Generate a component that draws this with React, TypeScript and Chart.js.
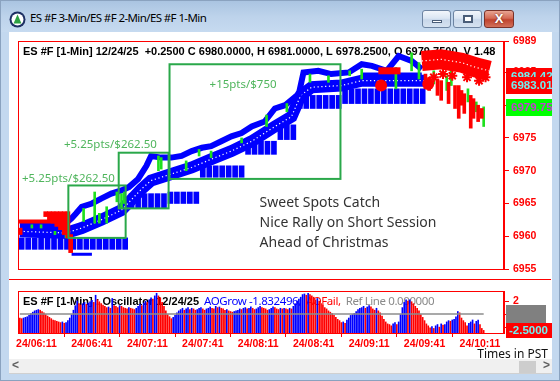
import React, { useEffect, useRef } from 'react';
import { Chart, registerables } from 'chart.js';

Chart.register(...registerables);

const ARIAL = "'Liberation Sans', Arial, sans-serif";
const SEGOE = "'Noto Sans', 'Open Sans', sans-serif";

const BLUE = '#0000ff';
const RED = '#ff0000';
const GREEN = '#1ee01e';
const BOX_GREEN = '#2aa84a';
const LABEL_GREEN = '#4fb55c';

// ---------- time axis: minutes after 06:00 PST, 12/24/25 ----------
const T_MIN = 1;
const T_MAX = 264;
const TIME_TICKS = [11, 41, 71, 101, 131, 161, 191, 221, 251];

// ---------- price axis ----------
const P_MIN = 6955;
const P_MAX = 6989.8;
const PRICE_TICKS = [6955, 6960, 6965, 6970, 6975, 6980, 6985, 6989.8];

const HEADER_MAIN =
  'ES #F [1-Min] 12/24/25  +0.2500 C 6980.0000, H 6981.0000, L 6978.2500, O 6979.7500, V 1.48';

// [time, price]
const upperTrail: [number, number][] = [
  [2, 6961.75], [24.5, 6961.75], [28, 6962.25], [30, 6962.75], [32.5, 6963.5], [35.5, 6964.5],
  [41, 6965], [46, 6965.75], [51.5, 6966.5], [57, 6967], [61, 6967.5], [66, 6968.75],
  [70.5, 6970.75], [73, 6972.25], [78.5, 6972], [84, 6972], [89.5, 6972.25], [95, 6973],
  [100.5, 6973.5], [105.5, 6973.75], [111, 6974.5], [116.5, 6975.25], [122, 6975.75],
  [127.5, 6976.75], [134.5, 6977.5], [140, 6979.5], [145.5, 6980], [153, 6981.75],
  [155.5, 6985], [163.5, 6985.25], [170.5, 6984.75], [180, 6985], [187, 6986.25],
  [192.5, 6986], [200.5, 6985.25], [207, 6987.5], [214, 6986.75], [219.5, 6985.5],
];

const sweetBand: [number, number][] = [
  [2, 6960.75], [27, 6960.5], [35.5, 6961.25], [46, 6962.5], [57, 6964], [68, 6967.25],
  [73, 6968.5], [84, 6969.5], [95, 6970.5], [105.5, 6971.75], [116.5, 6973],
  [127.5, 6974.5], [140, 6976.75], [149, 6978.25], [154, 6981.5], [160, 6982.75],
  [176, 6983], [187, 6983.75], [221, 6983.75],
];

// [time, low, high]
const supportBlocks: [number, number, number][] = [
  [3, 6958, 6959.75], [6.5, 6958, 6959.75], [10, 6958, 6959.75], [13.5, 6958, 6959.75],
  [17, 6958, 6959.75], [20.5, 6958, 6959.75], [24, 6958, 6959.75], [27.5, 6958, 6959.75],
  [31, 6958, 6959.75], [34.5, 6958, 6959.75], [38, 6958, 6959.75], [41.5, 6958, 6959.75],
  [45, 6958, 6959.75], [48.5, 6958, 6959.75], [52, 6958, 6959.75], [55.5, 6958, 6959.75],
  [59, 6958, 6959.75],
  [62.5, 6964.25, 6966.5], [66, 6964.25, 6966.5], [69.5, 6964.25, 6966.5], [73, 6964.25, 6966.5],
  [76.5, 6964.25, 6966.5], [80, 6964.25, 6966.5],
  [83.5, 6965, 6966.75], [87, 6965, 6966.75], [90.5, 6965, 6966.75], [94, 6965, 6966.75],
  [97.5, 6965, 6966.75],
  [101, 6969, 6970.75], [104.5, 6969, 6970.75], [108, 6969, 6970.75], [111.5, 6969, 6970.75],
  [115, 6969, 6970.75], [118.5, 6969, 6970.75], [122, 6969, 6970.75],
  [125.5, 6972.5, 6974.5], [129, 6972.5, 6974.5], [132.5, 6972.5, 6974.5], [136, 6972.5, 6974.5],
  [139.5, 6972.5, 6974.5],
  [143, 6974.75, 6977], [146.5, 6974.75, 6977], [150, 6974.75, 6977],
  [153.5, 6979.5, 6981.5], [157, 6979.5, 6981.5], [160.5, 6979.5, 6981.5], [164, 6979.5, 6981.5],
  [167.5, 6979.5, 6981.5], [171, 6979.5, 6981.5], [174.5, 6979.5, 6981.5],
  [178, 6980.25, 6982.5], [181.5, 6980.25, 6982.5], [185, 6980.25, 6982.5], [188.5, 6980.25, 6982.5],
  [192, 6980.25, 6982.5], [195.5, 6980.25, 6982.5], [199, 6980.25, 6982.5], [202.5, 6980.25, 6982.5],
  [206, 6980.25, 6982.5], [209.5, 6980.25, 6982.5], [213, 6980.25, 6982.5], [216.5, 6980.25, 6982.5],
  [220, 6980.25, 6982.5],
];

const blueLowSeg: [number, number][] = [[30, 6957.25], [41, 6957.25]];
const blueRail: [number, number][] = [[187, 6984.75], [219.5, 6984.75]];

const greenBars: [number, number, number][] = [
  [8.5, 6961.25, 6961.75], [13.5, 6961.25, 6961.75], [21, 6960.25, 6960.75], [27, 6959.75, 6960.25],
  [36.5, 6962.25, 6964.25], [42.5, 6962, 6966.75], [45, 6962, 6963.5], [49, 6962, 6964.5],
  [54.5, 6965.25, 6966.75], [57, 6964.25, 6966.5], [58.5, 6965, 6966.75], [77, 6970, 6972.25],
  [78.5, 6970.25, 6972], [92, 6970, 6971.5], [99, 6972.25, 6973.25], [105.5, 6972, 6973],
  [122, 6974.25, 6975], [135.5, 6976.75, 6978.5], [146.5, 6979, 6980.25], [159, 6983.5, 6984.75],
  [169, 6983.5, 6984.5], [180.5, 6984.5, 6985.25], [187, 6984, 6985.5], [205.5, 6982.5, 6985.75],
  [214, 6985.25, 6988], [218, 6984, 6986.5], [226, 6983.25, 6985.25], [233, 6982.25, 6984.5],
  [235.5, 6983, 6985.25], [244.5, 6980.5, 6982.5], [249, 6979, 6980.5], [253, 6976.75, 6979.75],
];

const redBars: [number, number, number][] = [
  [221.5, 6982.5, 6984.75], [223.5, 6982.25, 6984.25], [228, 6981.5, 6984], [230, 6980.75, 6983.75],
  [234, 6980.25, 6983.5], [237.5, 6979.5, 6983], [239.5, 6978, 6983], [241, 6980, 6982.25],
  [242.5, 6978.75, 6981.75], [246, 6976.5, 6981.5], [247.5, 6978, 6981], [250, 6977.5, 6980],
  [252, 6978, 6979.5],
];

const leftRedLine: [number, number][] = [[1, 6962.25], [27, 6962.25]];
const leftRedWedge: [number, number, number][] = [
  [16, 6963, 6963.75], [18, 6962.5, 6963.75], [20, 6962, 6963.75], [22, 6961.5, 6963.75],
  [24, 6961, 6963.75], [26, 6960.25, 6963.75], [28, 6959.75, 6963.75], [29.5, 6957.5, 6960.25],
];
const leftRedSquare: [number, number][] = [[1.5, 6960.75]];
const redBlob: [number, number][] = [[196, 6985.25], [208, 6985.25]];
const redCloud: [number, number][] = [[219.5, 6986.75], [230, 6987], [241, 6986.5], [249, 6985.75], [256, 6985.25]];
const redCircles: [number, number][] = [[197.5, 6983], [223, 6983.25]];
const redStars: [number, number][] = [
  [226, 6984.25], [231, 6984.75], [236, 6984.5], [244, 6984.25], [250.5, 6983.75], [254, 6984.25],
];

// sweet spot boxes: [t0, t1, pLow, pHigh]
const sweetBoxes: [number, number, number, number][] = [
  [28.25, 59.25, 6959.75, 6967.75],
  [55.5, 82.5, 6964.25, 6972.75],
  [83, 175.5, 6968.75, 6986.25],
];
const boxLabels: [number, number, string][] = [
  [28.3, 6968.75, '+5.25pts/$262.50'],
  [51, 6974, '+5.25pts/$262.50'],
  [122.8, 6983.1, '+15pts/$750'],
];
const NOTE_TIME = 131.75;
const noteLines = ['Sweet Spots Catch', 'Nice Rally on Short Session', 'Ahead of Christmas'];
const notePrices = [6965, 6962, 6959];

const priceMarkers = [6984.425, 6983.015, 6979.75];

// ---------- oscillator ----------
const OSC_START = 2;
const OSC_MIN = -2.9;
const OSC_MAX = 3.55;
const REF_LINE = 0;
const OSC_TICKS = [-2, 0, 2];
const oscValues = [
  -0.6, -0.7, -0.6, -0.5, -0.4, -0.2, 0.1, 0.3, 0.5, 0.6, 0.7, 0.6, 0.4, 0.2, 0.0, -0.3, -0.5, -0.7,
  -0.9, -1.0, -1.1, -1.2, -1.3, -1.2, -1.4, -1.3, -1.0, -0.6, -0.1, 0.6, 1.3, 2.0, 1.6, 1.4, 1.6, 1.8,
  1.5, 1.7, 1.9, 2.1, 1.8, 2.9, 2.2, 1.9, 1.6, 1.4, 1.2, 1.0, 1.1, 0.9, 2.4, 1.3, 1.2, 1.0, 1.3, 1.2,
  1.0, 0.9, 0.8, 1.0, 0.9, 0.8, 0.7, 0.9, 1.2, 1.5, 1.3, 1.7, 2.0, 1.8, 2.2, 2.5, 2.3, 2.8, 3.2, 2.8,
  2.5, 1.8, 1.2, 0.5, 0.0, -0.4, -0.7, -0.5, -0.2, 0.2, 0.5, 0.7, 0.9, 0.6, 0.8, 1.0,
  0.7, 0.9, 0.8, 0.6, 0.7, 0.9, 1.0, 0.8, 0.6, 0.8, 0.9, 1.1, 0.9, 0.8,
  1.2, 1.0, 1.1, 0.9, 0.8, 0.6, 0.7, 0.5, 0.4, 0.3, 0.4,
  0.5, 0.6, 0.8, 0.7, 0.9, 1.0, 0.8, 0.9,
  1.1, 0.9, 0.7, 0.8, 1.0, 1.2, 1.0, 0.9, 0.8, 0.6, 0.7, 0.9, 1.1, 1.0, 0.8, 0.7,
  0.9, 0.8, 0.9, 0.8, 0.7, 0.9, 0.8,
  1.2, 1.6, 2.0, 2.3, 2.6, 3.0,
  3.1, 2.9, 3.2,
  3.0, 2.8, 2.6, 2.2, 2.4, 2.0,
  1.6, 1.4, 1.0, 0.8, 0.5, 0.3, 0.1,
  -0.2, -0.5, -0.8, -1.0, -1.3, -1.2, -1.4,
  -0.9, -0.6, -0.2, 0.0, 0.1,
  0.4, 0.7, 0.9, 1.0, 1.2, 0.9, 1.1, 1.3, 1.1, 0.8, 0.6, 0.9, 0.5,
  0.2, -0.3, -0.8, -1.2, -1.5, -1.6, -1.8, -1.5, -1.3, -1.6, -1.2,
  0.0, 1.0, 1.8, 2.2, 2.0,
  2.2, 1.9, 1.6, 1.2, 0.9, 0.5,
  0.0, -0.5, -1.0, -1.5, -1.8,
  -2.1, -1.9, -2.2, -1.8, -1.6, -2.0,
  -1.5, -1.7, -1.6,
  -1.2, -1.0, -1.1, -0.9, -0.8,
  -0.4, 0.4, 0.2,
  -0.6, -1.0, -1.3, -1.8, -1.4,
  -1.2, -0.9, -1.5, -1.1, -0.9,
  -1.6, -2.2, -2.5,
];
const oscHeader: [string, string][] = [
  ['ES #F [1-Min] : Oscillator 12/24/25', 'black'],
  ['AOGrow -1.832496,', 'blue'],
  ['AOFail,', 'red'],
  ['Ref Line 0.000000', 'gray'],
];

const xy = (a: [number, number][]) => a.map(([x, y]) => ({ x, y }));
const rng = (a: [number, number, number][]) => a.map(([x, lo, hi]) => ({ x, y: [lo, hi] }));
const fmtTime = (t: number) => {
  const h = 6 + Math.floor(t / 60);
  const m = Math.round(t % 60);
  return `24/${String(h).padStart(2, '0')}:${String(m).padStart(2, '0')}`;
};

const lineDs = (data: any, color: string, width: number, order: number, extra: any = {}) => ({
  type: 'line', data, borderColor: color, borderWidth: width, pointRadius: 0, tension: 0,
  fill: false, order, clip: 0, ...extra,
});
const barDs = (data: any, color: string, thick: number, order: number) => ({
  type: 'bar', data, backgroundColor: color, barThickness: thick, grouped: false, order, clip: 0,
});

function mainConfig(): any {
  const mainDecor = {
    id: 'mainDecor',
    beforeDatasetsDraw(chart: any) {
      const { ctx, chartArea: a } = chart;
      ctx.save();
      ctx.beginPath();
      ctx.rect(a.left, a.top, a.right - a.left, a.bottom - a.top);
      ctx.clip();
      ctx.font = `bold 11px ${ARIAL}`;
      ctx.fillStyle = '#000';
      ctx.textBaseline = 'middle';
      ctx.fillText(HEADER_MAIN, a.left + 5, a.top + 11);
      ctx.restore();
    },
    afterDatasetsDraw(chart: any) {
      const { ctx, chartArea: a } = chart;
      const xs = chart.scales.x, ys = chart.scales.y;
      ctx.save();
      ctx.strokeStyle = BOX_GREEN;
      ctx.lineWidth = 2;
      sweetBoxes.forEach(([t0, t1, p0, p1]) => {
        const x0 = xs.getPixelForValue(t0), x1 = xs.getPixelForValue(t1);
        const y0 = ys.getPixelForValue(p1), y1 = ys.getPixelForValue(p0);
        ctx.strokeRect(x0, y0, x1 - x0, y1 - y0);
      });
      ctx.font = `11.5px ${SEGOE}`;
      ctx.fillStyle = LABEL_GREEN;
      ctx.textAlign = 'center';
      ctx.textBaseline = 'middle';
      boxLabels.forEach(([t, p, s]) => ctx.fillText(s, xs.getPixelForValue(t), ys.getPixelForValue(p)));
      ctx.font = `14px ${SEGOE}`;
      ctx.fillStyle = '#333';
      ctx.textAlign = 'left';
      noteLines.forEach((s, i) => ctx.fillText(s, xs.getPixelForValue(NOTE_TIME), ys.getPixelForValue(notePrices[i])));
      ctx.strokeStyle = RED;
      ctx.lineWidth = 1;
      ctx.strokeRect(a.left + 0.5, a.top + 0.5, a.right - a.left - 1, a.bottom - a.top);
      ctx.restore();
    },
    afterDraw(chart: any) {
      const { ctx, chartArea: a, width } = chart;
      const ys = chart.scales.y;
      ctx.save();
      ctx.font = `bold 11.5px ${ARIAL}`;
      ctx.textBaseline = 'middle';
      priceMarkers.forEach((v, i) => {
        const y = ys.getPixelForValue(v);
        const last = i === priceMarkers.length - 1;
        ctx.fillStyle = last ? '#00ff00' : RED;
        ctx.fillRect(a.right + 2, Math.round(y) - 8, width - a.right - 2, 17);
        ctx.fillStyle = last ? '#c040d0' : '#6ff0f0';
        ctx.fillText(v.toFixed(4), a.right + 7, y + 0.5);
      });
      ctx.restore();
    },
  };

  return {
    type: 'bar',
    data: {
      datasets: [
        barDs(rng(supportBlocks), BLUE, 5, 10),
        lineDs(xy(sweetBand), BLUE, 12, 9),
        lineDs(xy(sweetBand), '#ffffff', 1.2, 8, { borderDash: [1.2, 2.6] }),
        lineDs(xy(upperTrail), BLUE, 6, 7),
        lineDs(xy(blueLowSeg), BLUE, 3, 6),
        lineDs(xy(blueRail), BLUE, 3, 6),
        barDs(rng(greenBars), GREEN, 2, 5),
        lineDs(xy(leftRedLine), RED, 4, 4),
        barDs(rng(leftRedWedge), RED, 4, 4),
        lineDs(xy(leftRedSquare), RED, 0, 4, { showLine: false, pointRadius: 5, pointStyle: 'rect', pointBackgroundColor: RED, pointBorderWidth: 0 }),
        barDs(rng(redBars), RED, 3, 3),
        lineDs(xy(redBlob), RED, 7, 2),
        lineDs(xy(redCloud), RED, 20, 2),
        lineDs(xy(redCloud), '#ffffff', 1.2, 1.5, { borderDash: [1.2, 2.6] }),
        lineDs(xy(redCircles), RED, 0, 1, { showLine: false, pointRadius: 6, pointBackgroundColor: RED, pointBorderWidth: 0 }),
        lineDs(xy(redStars), RED, 0, 0, { showLine: false, pointRadius: 5, pointStyle: 'star', pointBorderColor: RED, pointBorderWidth: 2 }),
      ],
    },
    options: {
      animation: false,
      responsive: false,
      devicePixelRatio: 1,
      layout: { padding: { left: 9, top: 8, right: 0, bottom: 12 } },
      plugins: { legend: { display: false }, tooltip: { enabled: false } },
      scales: {
        x: { type: 'linear', min: T_MIN, max: T_MAX, display: false, offset: false },
        y: {
          type: 'linear', position: 'right', min: P_MIN, max: P_MAX,
          afterBuildTicks: (s: any) => { s.ticks = PRICE_TICKS.map((value) => ({ value })); },
          afterFit: (s: any) => { s.width = 48; s.paddingTop = 0; s.paddingBottom = 0; },
          ticks: {
            color: RED, padding: 4, autoSkip: false,
            font: { family: ARIAL, size: 10.5, weight: 'bold' },
            callback: (v: number) => String(Math.floor(v)),
          },
          grid: { drawOnChartArea: false, color: RED, tickLength: 5 },
          border: { color: RED },
        },
      },
    },
    plugins: [mainDecor],
  };
}

function oscConfig(): any {
  const lastT = OSC_START + oscValues.length - 1;
  const colors = oscValues.map((v, i) => (i > 0 && v >= oscValues[i - 1] ? BLUE : RED));
  const oscDecor = {
    id: 'oscDecor',
    beforeDatasetsDraw(chart: any) {
      const { ctx, chartArea: a } = chart;
      ctx.save();
      ctx.textBaseline = 'middle';
      let x = a.left + 5;
      const y = a.top + 11;
      oscHeader.forEach(([s, c], i) => {
        ctx.font = i === 0 ? `bold 11px ${ARIAL}` : `11.5px ${SEGOE}`;
        (ctx as any).letterSpacing = i === 0 ? '0px' : '-0.4px';
        ctx.fillStyle = c === 'black' ? '#000' : c === 'blue' ? BLUE : c === 'red' ? RED : '#8a8a8a';
        ctx.fillText(s, x, y);
        x += ctx.measureText(s).width + 5;
      });
      ctx.restore();
    },
    afterDatasetsDraw(chart: any) {
      const { ctx, chartArea: a } = chart;
      ctx.save();
      ctx.strokeStyle = RED;
      ctx.lineWidth = 1;
      ctx.strokeRect(a.left + 0.5, a.top + 0.5, a.right - a.left - 1, a.bottom - a.top);
      ctx.restore();
    },
    afterDraw(chart: any) {
      const { ctx, chartArea: a, width } = chart;
      const ys = chart.scales.y;
      const y0 = ys.getPixelForValue(REF_LINE);
      const cur = oscValues[oscValues.length - 1];
      const y1 = ys.getPixelForValue(cur);
      ctx.save();
      ctx.fillStyle = '#808080';
      ctx.fillRect(a.right + 2, Math.round(y0) - 9, 40, 18);
      ctx.fillStyle = RED;
      ctx.fillRect(a.right + 2, Math.round(y1) - 7, width - a.right - 2, 15);
      ctx.font = `bold 11.5px ${ARIAL}`;
      ctx.textBaseline = 'middle';
      ctx.fillStyle = '#6ff0f0';
      ctx.fillText(cur.toFixed(4), a.right + 5, y1 + 0.5);
      ctx.restore();
    },
  };
  return {
    type: 'bar',
    data: {
      datasets: [
        lineDs([{ x: OSC_START, y: REF_LINE }, { x: lastT, y: REF_LINE }], '#8c8c8c', 1.5, 0),
        {
          type: 'bar',
          data: oscValues.map((v, i) => ({ x: OSC_START + i, y: [OSC_MIN, v] })),
          backgroundColor: colors, barThickness: 1, grouped: false, order: 1, clip: 0,
        },
      ],
    },
    options: {
      animation: false,
      responsive: false,
      devicePixelRatio: 1,
      layout: { padding: { left: 9, top: 8, right: 0, bottom: 0 } },
      plugins: { legend: { display: false }, tooltip: { enabled: false } },
      scales: {
        x: {
          type: 'linear', min: T_MIN, max: T_MAX, offset: false,
          afterBuildTicks: (s: any) => { s.ticks = TIME_TICKS.map((value) => ({ value })); },
          afterFit: (s: any) => { s.height = 25; s.paddingLeft = 0; s.paddingRight = 0; },
          ticks: {
            color: RED, padding: 1, autoSkip: false, maxRotation: 0,
            font: { family: ARIAL, size: 10.5, weight: 'bold' },
            callback: (v: number) => fmtTime(v),
          },
          grid: { drawOnChartArea: false, color: RED, tickLength: 4 },
          border: { color: RED },
        },
        y: {
          type: 'linear', position: 'right', min: OSC_MIN, max: OSC_MAX,
          afterBuildTicks: (s: any) => { s.ticks = OSC_TICKS.map((value) => ({ value })); },
          afterFit: (s: any) => { s.width = 48; s.paddingTop = 0; s.paddingBottom = 0; },
          ticks: {
            color: RED, padding: 4, autoSkip: false,
            font: { family: ARIAL, size: 10.5, weight: 'bold' },
          },
          grid: { drawOnChartArea: false, color: RED, tickLength: 5 },
          border: { color: RED },
        },
      },
    },
    plugins: [oscDecor],
  };
}

const abs = (left: number, top: number, width: number, height: number, extra: any = {}) => ({
  position: 'absolute' as const, left, top, width, height, ...extra,
});

export default function App() {
  const mainRef = useRef<HTMLCanvasElement>(null);
  const oscRef = useRef<HTMLCanvasElement>(null);
  useEffect(() => {
    const main = new Chart(mainRef.current as HTMLCanvasElement, mainConfig());
    const osc = new Chart(oscRef.current as HTMLCanvasElement, oscConfig());
    return () => {
      main.destroy();
      osc.destroy();
    };
  }, []);

  const btn = {
    border: '1px solid #6d84a2', borderRadius: 3, boxSizing: 'border-box' as const,
    background: 'linear-gradient(#f2f6fb, #dbe6f3 45%, #c8d7ea 55%, #d6e2f0)',
  };

  return (
    <div style={abs(0, 0, 560, 381, {
      overflow: 'hidden', background: '#c3d8ef', border: '1px solid #8aa2bf', boxSizing: 'border-box',
    })}>
      <div style={abs(0, 0, 560, 31, { background: 'linear-gradient(#aac4e1, #bdd3eb 50%, #c6daf0)' })} />
      {/* window icon */}
      <svg style={abs(8, 10, 17, 17)} viewBox="0 0 17 17">
        <circle cx="8.5" cy="8.5" r="8" fill="#1d2f63" />
        <circle cx="8.5" cy="8.5" r="6" fill="#ffffff" />
        <polygon points="8.5,3.5 12.5,12.5 4.5,12.5" fill="#2ea043" />
      </svg>
      <div style={abs(29, 9, 300, 16, {
        font: `11.5px ${SEGOE}`, letterSpacing: '-0.6px', color: '#000', lineHeight: '16px', whiteSpace: 'nowrap',
      })}>
        ES #F 3-Min/ES #F 2-Min/ES #F 1-Min
      </div>
      <div style={{ ...abs(421, 9, 29, 18), ...btn }}>
        <div style={abs(9, 9, 10, 3, { background: '#fff', border: '1px solid #4a5d78', boxSizing: 'border-box' })} />
      </div>
      <div style={{ ...abs(452, 9, 29, 18), ...btn }}>
        <div style={abs(9, 4, 10, 8, { border: '1px solid #4a5d78', boxSizing: 'border-box', background: '#fff', boxShadow: 'inset 0 0 0 1px #4a5d78' })} />
      </div>
      <div style={abs(483, 9, 30, 18, {
        border: '1px solid #7a3128', borderRadius: 3, boxSizing: 'border-box',
        background: 'linear-gradient(#e8a593, #d46a55 45%, #c0432e 55%, #d2705a)',
        color: '#fff', font: `bold 13px ${ARIAL}`, textAlign: 'center', lineHeight: '16px',
        textShadow: '0 0 2px #5a1a10',
      })}>
        X
      </div>

      {/* client area */}
      <div style={abs(8, 31, 543, 342, { background: '#ffffff' })} />
      <canvas ref={mainRef} width={543} height={248} style={abs(8, 32, 543, 248)} />
      <div style={abs(8, 278, 542, 1, { background: RED })} />
      <canvas ref={oscRef} width={543} height={75} style={abs(8, 282, 543, 75)} />
      <div style={abs(465, 346, 82, 14, { font: `12px ${SEGOE}`, color: '#111', textAlign: 'right', lineHeight: '14px', whiteSpace: 'nowrap' })}>
        Times in PST
      </div>
      {/* scroll bar */}
      <div style={abs(8, 358, 543, 14, { background: '#f0f0f0', borderBottom: '1px solid #d0d0d0' })} />
      <div style={abs(11, 357, 12, 15, { font: `bold 12px ${ARIAL}`, color: '#606060', lineHeight: '15px' })}>&lt;</div>
      <div style={abs(518, 360, 17, 12, { background: '#cdcdcd' })} />
      <div style={abs(542, 357, 8, 15, { font: `bold 12px ${ARIAL}`, color: '#606060', lineHeight: '15px' })}>&gt;</div>
    </div>
  );
}
